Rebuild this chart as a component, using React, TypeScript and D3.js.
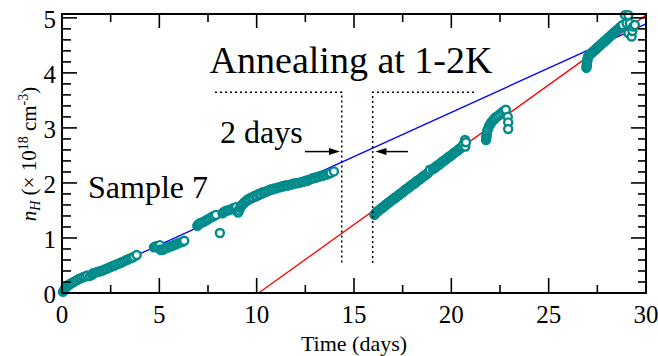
import { useEffect, useRef } from 'react'
import * as d3 from 'd3'

const xTicks = [0, 5, 10, 15, 20, 25, 30]
const yTicks = [0, 1, 2, 3, 4, 5]

// measured runs: [time (days), n_H (1e18 cm^-3)]
const run1 = [
  [0.05, 0.02], [0.1, 0.05], [0.15, 0.08], [0.2, 0.1], [0.25, 0.12], [0.3, 0.13], [0.35, 0.15],
  [0.4, 0.16], [0.45, 0.17], [0.5, 0.18], [0.6, 0.2], [0.7, 0.22], [0.8, 0.24], [0.9, 0.26],
  [1.0, 0.27], [1.1, 0.29], [1.2, 0.3], [1.3, 0.32], [1.44, 0.31],
]
const run2 = [
  [1.55, 0.33], [1.6, 0.36], [1.7, 0.37], [1.8, 0.38], [1.9, 0.39], [2.0, 0.4], [2.1, 0.41],
  [2.2, 0.43], [2.3, 0.44], [2.4, 0.46], [2.5, 0.47], [2.6, 0.49], [2.7, 0.5], [2.8, 0.52],
  [2.9, 0.53], [3.0, 0.55], [3.1, 0.56], [3.2, 0.58], [3.3, 0.6], [3.4, 0.61], [3.5, 0.63],
  [3.6, 0.64], [3.7, 0.66], [3.84, 0.69],
]
const run3 = [
  [4.72, 0.83], [4.78, 0.84], [4.85, 0.85], [4.92, 0.85], [5.03, 0.87], [5.05, 0.79], [5.1, 0.78],
  [5.2, 0.79], [5.3, 0.81], [5.4, 0.82], [5.5, 0.84], [5.6, 0.85], [5.7, 0.86], [5.8, 0.88],
  [5.9, 0.89], [6.0, 0.91], [6.1, 0.92], [6.2, 0.93], [6.28, 0.95],
]
const run4 = [
  [6.95, 1.22], [7.0, 1.24], [7.05, 1.26], [7.1, 1.27], [7.2, 1.28], [7.3, 1.3], [7.4, 1.32],
  [7.5, 1.34], [7.6, 1.36], [7.7, 1.38], [7.8, 1.4], [7.91, 1.42], [8.11, 1.09],
]
const run5 = [
  [8.25, 1.45], [8.3, 1.47], [8.4, 1.49], [8.5, 1.5], [8.6, 1.51], [8.7, 1.52], [8.8, 1.54],
  [8.9, 1.55], [8.95, 1.56], [9.0, 1.48], [9.05, 1.46], [9.1, 1.5], [9.15, 1.55], [9.2, 1.58],
  [9.25, 1.6], [9.3, 1.62], [9.35, 1.64], [9.4, 1.65], [9.45, 1.67], [9.5, 1.68], [9.55, 1.7],
  [9.6, 1.71], [9.7, 1.73], [9.8, 1.74], [9.9, 1.77], [10.0, 1.77], [10.1, 1.8], [10.2, 1.8],
  [10.3, 1.83], [10.4, 1.83], [10.5, 1.85], [10.6, 1.86], [10.7, 1.88], [10.8, 1.88], [10.9, 1.9],
  [11.0, 1.9], [11.1, 1.92], [11.2, 1.92], [11.3, 1.94], [11.4, 1.94], [11.5, 1.96], [11.6, 1.95],
  [11.7, 1.97], [11.8, 1.97], [11.9, 1.99], [12.0, 1.99], [12.1, 2.0], [12.2, 2.0], [12.3, 2.02],
  [12.4, 2.02], [12.5, 2.04], [12.6, 2.04], [12.7, 2.06], [12.8, 2.07], [12.9, 2.09], [13.0, 2.09],
  [13.1, 2.11], [13.2, 2.11], [13.3, 2.13], [13.4, 2.13], [13.5, 2.15], [13.6, 2.15], [13.7, 2.17],
  [13.8, 2.18], [13.97, 2.21],
]
const run6 = [
  [16.05, 1.42], [16.1, 1.45], [16.15, 1.47], [16.2, 1.48], [16.25, 1.49], [16.3, 1.51], [16.35, 1.52],
  [16.4, 1.54], [16.45, 1.55], [16.5, 1.56], [16.55, 1.58], [16.6, 1.59], [16.65, 1.61], [16.7, 1.62],
  [16.75, 1.63], [16.8, 1.65], [16.85, 1.66], [16.9, 1.67], [16.95, 1.69], [17.0, 1.7], [17.05, 1.71],
  [17.1, 1.73], [17.15, 1.74], [17.2, 1.75], [17.25, 1.77], [17.3, 1.78], [17.35, 1.79], [17.4, 1.81],
  [17.45, 1.82], [17.5, 1.83], [17.55, 1.85], [17.6, 1.86], [17.65, 1.88], [17.7, 1.89], [17.75, 1.9],
  [17.8, 1.91], [17.85, 1.93], [17.9, 1.94], [17.95, 1.96], [18.0, 1.97], [18.05, 1.98], [18.1, 1.99],
  [18.15, 2.01], [18.2, 2.02], [18.25, 2.04], [18.3, 2.05], [18.35, 2.06], [18.4, 2.07], [18.45, 2.09],
  [18.5, 2.1], [18.55, 2.12], [18.6, 2.13], [18.65, 2.14], [18.7, 2.15], [18.75, 2.17], [18.8, 2.18],
  [18.85, 2.2], [18.9, 2.24], [19.05, 2.25], [19.1, 2.26], [19.15, 2.28], [19.2, 2.29], [19.25, 2.31],
  [19.3, 2.32], [19.35, 2.33], [19.4, 2.34], [19.45, 2.36], [19.5, 2.37], [19.55, 2.39], [19.6, 2.4],
  [19.65, 2.41], [19.7, 2.42], [19.75, 2.44], [19.8, 2.45], [19.85, 2.47], [19.9, 2.48], [19.95, 2.49],
  [20.0, 2.5], [20.05, 2.52], [20.1, 2.53], [20.15, 2.55], [20.2, 2.56], [20.25, 2.57], [20.3, 2.58],
  [20.35, 2.6], [20.4, 2.61], [20.45, 2.63], [20.5, 2.64], [20.55, 2.66], [20.62, 2.7], [20.7, 2.78],
  [20.72, 2.66], [20.75, 2.74],
]
const run7 = [
  [21.78, 2.78], [21.79, 2.81], [21.8, 2.84], [21.81, 2.87], [21.82, 2.9], [21.84, 2.93], [21.86, 2.96],
  [21.9, 3.0], [21.95, 3.04], [22.0, 3.07], [22.05, 3.1], [22.1, 3.12], [22.15, 3.14], [22.2, 3.16],
  [22.25, 3.18], [22.3, 3.2], [22.4, 3.22], [22.5, 3.25], [22.6, 3.28], [22.7, 3.31], [22.8, 3.33],
  [22.9, 3.2], [22.92, 3.1], [22.92, 2.98],
]
const run8 = [
  [26.94, 4.09], [26.95, 4.12], [26.96, 4.15], [26.97, 4.18], [26.98, 4.21], [26.99, 4.24], [27.0, 4.26],
  [27.03, 4.3], [27.05, 4.31], [27.1, 4.33], [27.15, 4.34], [27.2, 4.36], [27.25, 4.38], [27.3, 4.39],
  [27.35, 4.41], [27.4, 4.42], [27.45, 4.44], [27.5, 4.46], [27.55, 4.47], [27.6, 4.49], [27.65, 4.5],
  [27.7, 4.52], [27.75, 4.54], [27.8, 4.55], [27.85, 4.57], [27.9, 4.58], [27.95, 4.6], [28.0, 4.61],
  [28.05, 4.63], [28.1, 4.65], [28.15, 4.66], [28.2, 4.68], [28.25, 4.7], [28.3, 4.71], [28.35, 4.73],
  [28.4, 4.74], [28.45, 4.76], [28.5, 4.77], [28.55, 4.79], [28.6, 4.8], [28.65, 4.82], [28.7, 4.84],
  [28.75, 4.85], [28.8, 4.87], [28.92, 5.05], [29.0, 4.9], [29.09, 5.05], [29.1, 4.72], [29.17, 4.9],
  [29.26, 4.66], [29.3, 4.76], [29.34, 4.84], [29.43, 4.87],
]
const runs = [run1, run2, run3, run4, run5, run6, run7, run8]

// linear fits before / after annealing
const fitBefore = [[0, 0.07], [30, 4.89]]
const fitAfter = [[10.1, 0], [30, 5.05]]

const serif = "'Liberation Serif','Times New Roman',serif"
const teal = '#008b8b'

export default function App() {
  const svgRef = useRef(null)

  useEffect(() => {
    const svg = d3.select(svgRef.current)
    svg.selectAll('*').remove()

    const x = d3.scaleLinear().domain([0, 30]).range([62, 646])
    const y = d3.scaleLinear().domain([0, 5.07]).range([293, 14])
    const line = d3.line().x((d) => x(d[0])).y((d) => y(d[1]))

    svg.append('path').attr('d', line(fitBefore)).attr('stroke', '#0000ff').attr('stroke-width', 1.3).attr('fill', 'none')
    svg.append('path').attr('d', line(fitAfter)).attr('stroke', '#ff0000').attr('stroke-width', 1.3).attr('fill', 'none')

    const pts = svg.append('g')
    runs.forEach((run) => {
      run.forEach((d) => {
        pts.append('circle')
          .attr('cx', x(d[0]))
          .attr('cy', y(d[1]))
          .attr('r', 4)
          .attr('fill', '#fff')
          .attr('stroke', teal)
          .attr('stroke-width', 2.4)
      })
    })

    // frame + ticks
    const [x0, x1] = x.range()
    const [y0, y1] = y.range()
    svg.append('rect').attr('x', x0).attr('y', y1).attr('width', x1 - x0).attr('height', y0 - y1)
      .attr('fill', 'none').attr('stroke', '#000').attr('stroke-width', 2)

    const tk = svg.append('g').attr('stroke', '#000').attr('stroke-width', 1.6)
    const xMinor = d3.range(2.5, 30, 5)
    const yMinor = d3.range(0.2, 5.01, 0.2).filter((v) => Math.abs(v - Math.round(v)) > 0.01)
    xTicks.forEach((t) => {
      tk.append('line').attr('x1', x(t)).attr('x2', x(t)).attr('y1', y0).attr('y2', y0 - 15)
      tk.append('line').attr('x1', x(t)).attr('x2', x(t)).attr('y1', y1).attr('y2', y1 + 14)
    })
    xMinor.forEach((t) => {
      tk.append('line').attr('x1', x(t)).attr('x2', x(t)).attr('y1', y0).attr('y2', y0 - 8)
      tk.append('line').attr('x1', x(t)).attr('x2', x(t)).attr('y1', y1).attr('y2', y1 + 8)
    })
    yTicks.forEach((v) => {
      tk.append('line').attr('x1', x0).attr('x2', x0 + 15).attr('y1', y(v)).attr('y2', y(v))
      tk.append('line').attr('x1', x1).attr('x2', x1 - 15).attr('y1', y(v)).attr('y2', y(v))
    })
    yMinor.forEach((v) => {
      tk.append('line').attr('x1', x0).attr('x2', x0 + 9).attr('y1', y(v)).attr('y2', y(v))
      tk.append('line').attr('x1', x1).attr('x2', x1 - 8).attr('y1', y(v)).attr('y2', y(v))
    })

    const txt = svg.append('g').style('font-family', serif).attr('fill', '#000')
    xTicks.forEach((t) => {
      txt.append('text').attr('x', x(t)).attr('y', 323).attr('text-anchor', 'middle')
        .attr('font-size', 25).text(t)
    })
    yTicks.forEach((v) => {
      txt.append('text').attr('x', 56).attr('y', y(v) + 10).attr('text-anchor', 'end')
        .attr('font-size', 25).text(v)
    })
    txt.append('text').attr('x', 354).attr('y', 351).attr('text-anchor', 'middle')
      .attr('font-size', 22).text('Time (days)')

    const yl = txt.append('text').attr('transform', 'translate(36,154) rotate(-90)')
      .attr('text-anchor', 'middle').attr('font-size', 21)
    yl.append('tspan').attr('font-style', 'italic').text('n')
    yl.append('tspan').attr('font-style', 'italic').attr('font-size', 14).attr('dy', 4).text('H')
    yl.append('tspan').attr('dy', -4).text(' (× 10')
    yl.append('tspan').attr('font-size', 14).attr('dy', -8).text('18')
    yl.append('tspan').attr('dy', 8).text(' cm')
    yl.append('tspan').attr('font-size', 14).attr('dy', -8).text('-3')
    yl.append('tspan').attr('dy', 8).text(')')

    txt.append('text').attr('x', 351).attr('y', 73).attr('text-anchor', 'middle')
      .attr('font-size', 38).text('Annealing at 1-2K')
    txt.append('text').attr('x', 220).attr('y', 143).attr('font-size', 32).text('2 days')
    txt.append('text').attr('x', 88).attr('y', 198).attr('font-size', 32).text('Sample 7')

    // annealing window markers
    const dot = svg.append('g').attr('stroke', '#000').attr('stroke-width', 1.5)
      .attr('stroke-dasharray', '2,3').attr('fill', 'none')
    dot.append('path').attr('d', line([[7.86, 3.65], [14.37, 3.65], [14.37, 0.52]]))
    dot.append('path').attr('d', line([[21.16, 3.65], [15.96, 3.65], [15.96, 0.52]]))

    const arrow = (from, to) => {
      const ax = x(from[0]), ay = y(from[1]), bx = x(to[0]), by = y(to[1])
      const dir = Math.sign(bx - ax)
      svg.append('line').attr('x1', ax).attr('y1', ay).attr('x2', bx - dir * 8).attr('y2', by)
        .attr('stroke', '#000').attr('stroke-width', 1.5)
      svg.append('path')
        .attr('d', `M${bx},${by} L${bx - dir * 11},${by - 3.5} L${bx - dir * 11},${by + 3.5} Z`)
        .attr('fill', '#000')
    }
    arrow([12.48, 2.57], [14.28, 2.57])
    arrow([17.77, 2.57], [16.1, 2.57])
  }, [])

  return (
    <div style={{ position: 'fixed', left: 0, top: 0 }}>
      <svg ref={svgRef} width={658} height={356} style={{ display: 'block', background: '#fff' }} />
    </div>
  )
}
